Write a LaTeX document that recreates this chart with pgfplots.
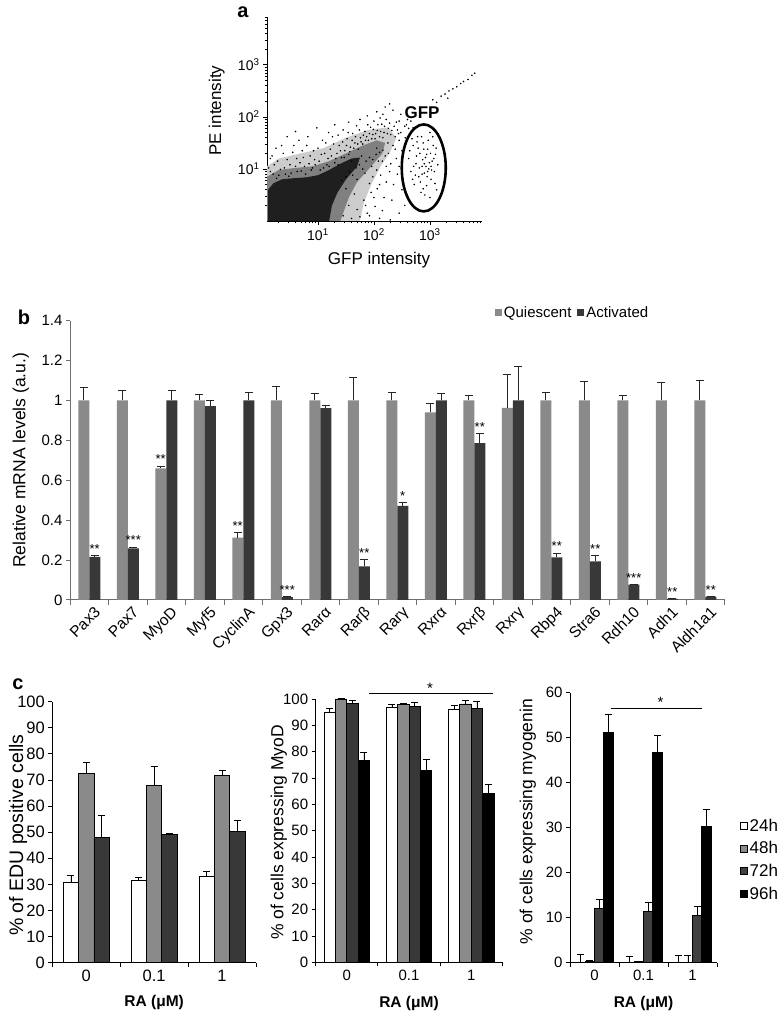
\documentclass[border=0pt]{standalone}
\usepackage{fontspec}
\setmainfont{Liberation Sans}
\usepackage{pgfplots}
\usepackage{pgfplotstable}
\pgfplotsset{compat=1.18}
\newcommand{\fsz}[1]{\fontsize{#1bp}{#1bp}\selectfont}
\definecolor{qgray}{HTML}{8A8A8A}
\definecolor{adark}{HTML}{383838}
\definecolor{axgray}{HTML}{6E6E6E}
\pgfplotsset{/pgf/number format/assume math mode=true}

\pgfplotstableread{
x Q Qe A Ae
0 1 0.067 0.216 0.007
1 1 0.05 0.259 0.007
2 0.66 0.012 1 0.05
3 1 0.03 0.972 0.03
4 0.313 0.027 1 0.043
5 1 0.07 0.015 0.002
6 1 0.037 0.962 0.013
7 1 0.115 0.168 0.033
8 1 0.04 0.472 0.018
9 0.94 0.047 1 0.037
10 1 0.028 0.786 0.047
11 0.963 0.166 1 0.17
12 1 0.043 0.214 0.022
13 1 0.095 0.194 0.028
14 1 0.025 0.077 0.003
15 1 0.089 0.006 0.002
16 1 0.10 0.017 0.003
}\tabB

\pgfplotstableread{
x W We G Ge D De
0 30.6 3.0 72.4 4.4 48.0 8.3
1 31.5 1.1 67.9 7.3 49.3 0.3
2 32.95 2.0 71.8 1.8 50.3 4.4
}\tabCa

\pgfplotstableread{
x W We G Ge D De K Ke
0 94.9 1.4 100 0.1 98.2 1.3 76.8 3.1
1 96.8 1.3 98.0 0.2 97.1 1.5 73.0 4.2
2 96.1 1.5 98.1 1.3 96.4 2.6 64.0 3.4
}\tabCb

\pgfplotstableread{
x W We G Ge D De K Ke
0 0 1.8 0.3 0.2 12.0 2.0 51.1 4.0
1 0 1.3 0.2 0.1 11.3 2.0 46.7 3.9
2 0 1.5 0 1.5 10.4 2.0 30.2 3.9
}\tabCc

\pgfplotstableread{
lx ly
0.15 0.95
0.22 1.08
0.18 1.25
0.30 0.88
0.35 1.45
0.40 1.02
0.45 1.18
0.52 0.92
0.55 1.32
0.60 1.05
0.66 1.55
0.70 0.96
0.74 1.22
0.80 1.45
0.84 1.10
0.88 0.98
0.92 1.35
0.98 1.79
1.02 1.15
1.06 1.28
1.10 1.02
1.14 1.50
1.18 1.20
1.22 1.38
1.26 1.62
1.30 1.12
1.34 1.30
1.38 1.45
1.42 1.22
1.45 1.75
1.48 1.35
1.52 1.58
1.55 1.28
1.58 1.42
1.62 1.68
1.66 1.50
1.69 1.83
1.72 1.38
1.76 1.60
1.80 1.48
1.84 1.72
1.87 1.62
1.90 1.55
1.94 1.80
1.98 1.66
2.02 1.58
2.06 1.74
2.10 1.62
2.14 1.86
2.18 1.70
2.22 1.95
2.26 1.78
2.30 1.66
2.34 2.13
2.20 2.19
2.11 1.98
2.00 1.92
1.88 2.02
0.26 0.82
0.48 0.86
0.62 1.20
0.78 0.90
0.95 1.08
1.20 1.05
1.36 1.08
1.60 1.15
1.78 1.25
2.05 1.40
2.25 1.50
2.38 1.62
2.45 1.55
2.42 1.75
1.45 0.10
1.55 0.30
1.60 0.05
1.70 0.22
1.75 0.08
1.82 0.40
1.88 0.15
1.95 0.55
2.02 0.28
2.10 0.05
2.18 0.45
2.29 0.02
2.35 0.70
2.50 0.60
1.65 0.52
1.92 0.72
2.12 0.88
2.28 0.95
1.50 0.62
2.40 1.20
1.42 0.78
1.50 0.85
1.56 0.95
1.62 0.88
1.68 1.02
1.74 1.08
1.80 1.00
1.86 1.15
1.92 1.22
1.98 1.18
2.04 1.28
2.10 1.32
2.16 1.36
2.20 1.25
1.70 0.80
1.84 0.92
1.96 1.05
2.08 1.15
2.48 1.70
2.55 1.82
2.62 1.78
2.70 1.79
2.66 1.92
2.48 2.05
2.45 1.92
3.05 2.33
3.12 2.28
3.20 2.40
3.27 2.44
3.34 2.50
3.41 2.54
3.48 2.58
3.55 2.64
3.60 2.68
3.68 2.72
3.75 2.80
3.80 2.84
3.32 2.36
2.62 1.20
2.66 0.95
2.70 1.45
2.72 0.70
2.75 1.10
2.78 1.62
2.80 0.85
2.82 1.30
2.84 0.55
2.86 1.05
2.88 1.50
2.90 0.92
2.92 1.22
2.94 0.68
2.96 1.38
2.98 1.00
3.00 1.70
3.02 0.80
3.04 1.15
3.06 1.45
3.08 0.95
3.10 1.28
3.12 0.60
3.14 1.08
2.64 1.35
2.68 1.58
2.74 0.88
2.76 1.25
2.81 1.02
2.83 0.75
2.87 1.18
2.89 1.38
2.91 0.50
2.93 1.05
2.95 0.85
2.97 1.55
2.99 1.12
3.01 1.30
3.03 0.98
3.05 1.62
3.07 1.20
3.09 0.72
2.85 1.62
2.79 1.40
2.71 1.05
2.69 0.80
2.88 0.62
3.00 0.45
2.94 1.28
2.86 0.90
3.11 1.40
2.77 1.52
2.90 1.10
2.96 0.95
3.02 1.05
0.12 1.02
0.20 0.90
0.28 1.15
0.33 0.99
0.38 1.30
0.42 0.90
0.50 1.08
0.57 1.45
0.63 0.95
0.68 1.12
0.72 1.35
0.76 1.05
0.82 1.62
0.86 1.25
0.90 1.02
0.94 1.18
1.00 1.40
1.04 0.98
1.08 1.55
1.12 1.30
1.16 1.08
1.19 1.70
1.24 1.25
1.28 1.48
1.32 1.20
1.36 1.65
1.40 1.35
1.44 1.52
1.47 1.22
1.51 1.45
1.54 1.70
1.57 1.33
1.61 1.55
1.64 1.40
1.67 1.62
1.71 1.48
1.74 1.75
1.77 1.52
1.81 1.65
1.85 1.55
1.89 1.85
1.92 1.68
1.96 1.58
1.99 1.76
2.03 1.68
2.07 1.85
2.12 1.72
2.16 1.60
2.19 1.82
2.24 1.68
2.28 1.88
2.32 1.74
2.36 1.82
2.40 1.90
2.44 1.68
2.16 2.05
2.28 2.25
2.05 2.10
1.75 1.95
1.55 1.90
1.30 1.85
0.60 1.72
0.45 1.62
0.25 1.40
0.15 1.20
1.85 0.30
1.92 0.10
2.00 0.45
2.06 0.62
2.15 0.20
2.22 0.75
2.32 0.40
2.42 0.90
2.45 1.05
2.55 0.30
2.45 0.15
2.38 1.38
2.30 1.10
2.22 1.05
2.15 1.15
2.26 1.30
2.34 1.45
2.10 0.70
1.98 0.85
2.05 0.98
2.50 1.35
2.56 1.60
2.58 1.85
2.60 1.95
}\tabDots

\pgfplotstableread{
lx ly
0.09 0.00
0.09 1.05
0.30 1.20
0.70 1.30
1.10 1.40
1.50 1.60
1.90 1.75
2.25 1.80
2.40 1.60
2.30 1.35
2.12 1.05
1.95 0.70
1.82 0.35
1.75 0.00
}\tabLight

\pgfplotstableread{
lx ly
0.09 0.00
0.09 0.85
0.30 0.98
0.60 1.02
0.90 1.05
1.20 1.15
1.50 1.30
1.80 1.45
2.05 1.55
2.20 1.50
2.15 1.30
1.95 1.05
1.70 0.75
1.55 0.45
1.45 0.15
1.40 0.00
}\tabMid

\pgfplotstableread{
lx ly
0.11 0.00
0.11 0.60
0.20 0.72
0.35 0.80
0.55 0.82
0.80 0.84
1.00 0.88
1.20 0.98
1.40 1.10
1.60 1.20
1.75 1.22
1.70 1.05
1.50 0.80
1.35 0.55
1.25 0.30
1.20 0.00
}\tabCore

\begin{document}
\begin{tikzpicture}
\path[use as bounding box] (0,0) rectangle (777bp,1014bp);

% ---------------- panel a
\begin{axis}[scale only axis, width=215bp, height=204bp, at={(267bp,793bp)}, anchor=south west,
  xmode=log, ymode=log, xmin=1.23, xmax=8511, ymin=1, ymax=8318,
  axis lines=left, axis line style={-, line width=0.9bp}, tick align=outside,
  xtick={10,100,1000}, xticklabels={10\textsuperscript{1},10\textsuperscript{2},10\textsuperscript{3}},
  ytick={10,100,1000}, yticklabels={10\textsuperscript{1},10\textsuperscript{2},10\textsuperscript{3}},
  minor xtick={2,3,4,5,6,7,8,9,20,30,40,50,60,70,80,90,200,300,400,500,600,700,800,900,2000,3000,4000,5000,6000,7000,8000},
  minor ytick={2,3,4,5,6,7,8,9,20,30,40,50,60,70,80,90,200,300,400,500,600,700,800,900,2000,3000,4000,5000,6000,7000,8000},
  major tick length=4bp, minor tick length=2.5bp, tick style={line width=0.8bp, black},
  ticklabel style={font=\fsz{14}},
  xlabel={GFP intensity}, ylabel={PE intensity}, label style={font=\fsz{17}},
  xlabel style={at={(axis description cs:0.521,-0.191)}, anchor=center},
  ylabel style={at={(axis description cs:-0.234,0.541)}, anchor=center},
  clip mode=individual]
\addplot[fill=black!20, draw=none] table[x expr=10^\thisrowno{0}, y expr=10^\thisrowno{1}] {\tabLight};
\addplot[fill=black!50, draw=none] table[x expr=10^\thisrowno{0}, y expr=10^\thisrowno{1}] {\tabMid};
\addplot[fill=black!88, draw=none] table[x expr=10^\thisrowno{0}, y expr=10^\thisrowno{1}] {\tabCore};
\addplot[only marks, mark=*, mark size=0.55bp, mark options={fill=black, draw=none}] table[x expr=10^\thisrowno{0}, y expr=10^\thisrowno{1}] {\tabDots};
\draw[line width=2.6bp] (axis cs:776,10.47) ellipse [x radius=22bp, y radius=43.5bp];
\node[font=\bfseries\fsz{17}] at (axis cs:724,119.4) {GFP};
\end{axis}
\node[font=\bfseries\fsz{20}] at (243bp,1002bp) {a};

% ---------------- panel b
\begin{axis}[scale only axis, width=654.5bp, height=279.3bp, at={(70bp,414bp)}, anchor=south west,
  xmin=-0.5, xmax=16.5, ymin=0, ymax=1.4,
  ytick={0,0.2,0.4,0.6,0.8,1,1.2,1.4},
  axis lines=left, axis line style={-, draw=axgray, line width=1bp}, tick align=outside,
  tick style={axgray, line width=1bp},
  xtick={0,...,16},
  xticklabels={Pax3,Pax7,MyoD,Myf5,CyclinA,Gpx3,Rarα,Rarβ,Rarγ,Rxrα,Rxrβ,Rxrγ,Rbp4,Stra6,Rdh10,Adh1,Aldh1a1},
  major x tick style={draw=none},
  minor xtick={-0.5,0.5,...,16.5}, minor tick length=5bp, major tick length=4bp,
  xticklabel style={rotate=45, anchor=north east, font=\fsz{15.5}, inner sep=1bp, xshift=3bp, yshift=-3bp},
  yticklabel style={font=\fsz{15}},
  ylabel={Relative mRNA levels (a.u.)},
  ylabel style={font=\fsz{17.5}, at={(axis description cs:-0.075,0.5)}, anchor=center},
  ybar=0pt, bar width=11bp, clip=false,
  legend style={at={(axis description cs:0.649,1.0276)}, anchor=west, draw=none, fill=none, inner sep=0pt,
    font=\fsz{15}, /tikz/every even column/.append style={column sep=4bp}},
  legend columns=2,
  legend image code/.code={\fill[#1] (0bp,-3.5bp) rectangle (7bp,3.5bp);},
  error bars/error bar style={black!85, line width=0.8bp},
  error bars/error mark options={black!85, line width=0.8bp, mark size=4bp, rotate=90},
  ]
\addplot[fill=qgray, draw=none, error bars/.cd, y dir=plus, y explicit] table[x=x, y=Q, y error=Qe] {\tabB};
\addplot[fill=adark, draw=none, error bars/.cd, y dir=plus, y explicit] table[x=x, y=A, y error=Ae] {\tabB};
\addlegendentry{Quiescent}
\addlegendentry{Activated}
\begin{scope}[every node/.style={font=\fsz{13}, anchor=base, inner sep=0pt}]
\node at ([xshift=5.5bp,yshift=2bp]axis cs:0,0.223) {**};
\node at ([xshift=5.5bp,yshift=2bp]axis cs:1,0.266) {***};
\node at ([xshift=-5.5bp,yshift=2bp]axis cs:2,0.672) {**};
\node at ([xshift=-5.5bp,yshift=2bp]axis cs:4,0.34) {**};
\node at ([xshift=5.5bp,yshift=2bp]axis cs:5,0.017) {***};
\node at ([xshift=5.5bp,yshift=2bp]axis cs:7,0.201) {**};
\node at ([xshift=5.5bp,yshift=2bp]axis cs:8,0.49) {*};
\node at ([xshift=5.5bp,yshift=2bp]axis cs:10,0.833) {**};
\node at ([xshift=5.5bp,yshift=2bp]axis cs:12,0.236) {**};
\node at ([xshift=5.5bp,yshift=2bp]axis cs:13,0.222) {**};
\node at ([xshift=5.5bp,yshift=2bp]axis cs:14,0.08) {***};
\node at ([xshift=5.5bp,yshift=2bp]axis cs:15,0.008) {**};
\node at ([xshift=5.5bp,yshift=2bp]axis cs:16,0.02) {**};
\end{scope}
\end{axis}
\node[font=\bfseries\fsz{20}] at (24bp,697bp) {b};

% ---------------- panel c common
\pgfplotsset{cstyle/.style={scale only axis, anchor=south west,
  xmin=-0.5, xmax=2.5, ymin=0,
  axis lines=left, axis line style={-, black, line width=0.9bp}, tick align=outside,
  tick style={black, line width=0.9bp},
  xtick={0,1,2}, xticklabels={0,0.1,1},
  major x tick style={draw=none},
  minor xtick={-0.5,0.5,1.5,2.5}, minor tick length=4bp, major tick length=4bp,
  xlabel={\textbf{RA (μM)}},
  ybar=0pt, clip=false,
  error bars/error bar style={black, line width=0.8bp},
  error bars/error mark options={black, line width=0.8bp, mark size=3.5bp, rotate=90},
}}

\begin{axis}[cstyle, width=203.7bp, height=261bp, at={(52.3bp,51.3bp)},
  ymax=100, ytick={0,10,...,100}, bar width=15.3bp,
  ticklabel style={font=\fsz{16.5}},
  ylabel={\% of EDU positive cells},
  ylabel style={font=\fsz{19.5}, at={(axis description cs:-0.168,0.489)}, anchor=center},
  xlabel style={font=\fsz{15.5}, at={(axis description cs:0.5,-0.154)}, anchor=center}]
\addplot[fill=white, draw=black, line width=0.7bp, error bars/.cd, y dir=plus, y explicit] table[x=x, y=W, y error=We] {\tabCa};
\addplot[fill=qgray, draw=black, line width=0.7bp, error bars/.cd, y dir=plus, y explicit] table[x=x, y=G, y error=Ge] {\tabCa};
\addplot[fill=adark, draw=black, line width=0.7bp, error bars/.cd, y dir=plus, y explicit] table[x=x, y=D, y error=De] {\tabCa};
\end{axis}
\node[font=\bfseries\fsz{20}] at (18bp,330bp) {c};

\begin{axis}[cstyle, width=186.6bp, height=263.3bp, at={(315.7bp,51.7bp)},
  ymax=100, ytick={0,10,...,100}, bar width=11.4bp,
  ticklabel style={font=\fsz{15}},
  ylabel={\% of cells expressing MyoD},
  ylabel style={font=\fsz{17.5}, at={(axis description cs:-0.197,0.493)}, anchor=center},
  xlabel style={font=\fsz{15.5}, at={(axis description cs:0.5,-0.156)}, anchor=center}]
\addplot[fill=white, draw=black, line width=0.7bp, error bars/.cd, y dir=plus, y explicit] table[x=x, y=W, y error=We] {\tabCb};
\addplot[fill=qgray, draw=black, line width=0.7bp, error bars/.cd, y dir=plus, y explicit] table[x=x, y=G, y error=Ge] {\tabCb};
\addplot[fill=adark, draw=black, line width=0.7bp, error bars/.cd, y dir=plus, y explicit] table[x=x, y=D, y error=De] {\tabCb};
\addplot[fill=black, draw=black, line width=0.7bp, error bars/.cd, y dir=plus, y explicit] table[x=x, y=K, y error=Ke] {\tabCb};
\draw[line width=0.9bp] (axis cs:0.357,102.2) -- (axis cs:2.35,102.2);
\node[font=\fsz{15}, anchor=base, inner sep=0pt] at (axis cs:1.34,102.2) {*};
\end{axis}

\begin{axis}[cstyle, width=147bp, height=269.8bp, at={(570bp,51.5bp)},
  ymax=60, ytick={0,10,...,60}, bar width=9.2bp,
  ticklabel style={font=\fsz{15}},
  ylabel={\% of cells expressing myogenin},
  ylabel style={font=\fsz{17.5}, at={(axis description cs:-0.286,0.522)}, anchor=center},
  xlabel style={font=\fsz{15.5}, at={(axis description cs:0.5,-0.151)}, anchor=center},
  legend style={at={(axis description cs:1.156,0.541)}, anchor=north west, draw=none, fill=none, inner sep=0pt,
    font=\fsz{17}, row sep=5bp},
  legend cell align=left,
  legend image code/.code={\draw[#1, line width=0.6bp] (0bp,-3.5bp) rectangle (7bp,3.5bp);}]
\addplot[fill=white, draw=black, line width=0.7bp, error bars/.cd, y dir=plus, y explicit] table[x=x, y=W, y error=We] {\tabCc};
\addplot[fill=qgray, draw=black, line width=0.7bp, error bars/.cd, y dir=plus, y explicit] table[x=x, y=G, y error=Ge] {\tabCc};
\addplot[fill=black!75, draw=black, line width=0.7bp, error bars/.cd, y dir=plus, y explicit] table[x=x, y=D, y error=De] {\tabCc};
\addplot[fill=black, draw=black, line width=0.7bp, error bars/.cd, y dir=plus, y explicit] table[x=x, y=K, y error=Ke] {\tabCc};
\addlegendentry{24h}
\addlegendentry{48h}
\addlegendentry{72h}
\addlegendentry{96h}
\draw[line width=0.9bp] (axis cs:0.33,56.6) -- (axis cs:2.19,56.6);
\node[font=\fsz{15}, anchor=base, inner sep=0pt] at (axis cs:1.35,56.6) {*};
\end{axis}
\end{tikzpicture}
\end{document}
